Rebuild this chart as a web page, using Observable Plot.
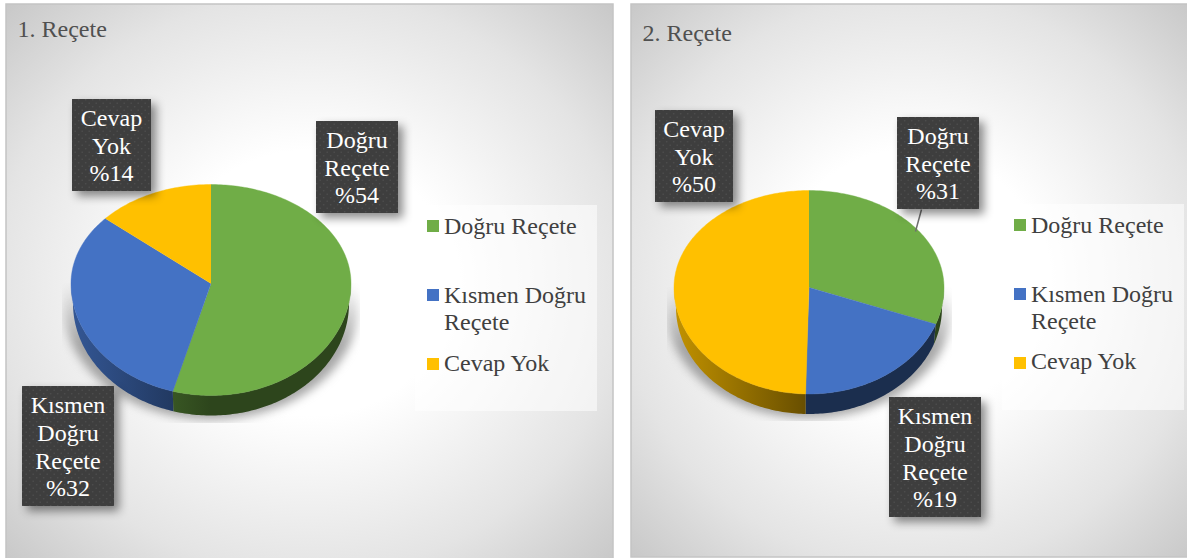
<!DOCTYPE html>
<html lang="tr">
<head>
<meta charset="utf-8">
<script src="https://cdn.jsdelivr.net/npm/d3@7"></script>
<script src="https://cdn.jsdelivr.net/npm/@observablehq/plot@0.6"></script>
<style>
html,body{margin:0;padding:0;background:#fff}
svg{display:block}
</style>
</head>
<body>
<div id="chart"></div>
<script>
// --- data ---
const categories = ["Doğru Reçete", "Kısmen Doğru Reçete", "Cevap Yok"];
const colors = ["#70ad47", "#4472c4", "#ffc000"];
const values1 = [54.4, 32.0, 13.6];
const values2 = [30.6, 19.8, 49.6];
const percents1 = ["%54", "%32", "%14"];
const percents2 = ["%31", "%19", "%50"];
const boxTexts = ["Doğru\nReçete", "Kısmen\nDoğru\nReçete", "Cevap\nYok"];
const titles = ["1. Reçete", "2. Reçete"];

// --- layout ---
const W = 1187, H = 558;
const FONT = "Liberation Serif";
const FS = 24;
const panels = [
  {x1: 6, x2: 613, y1: 4, y2: 562, tx: 17, ty: 36,
   pie: {cx: 210.5, cy: 283, rx: 140, ryT: 99, ryB: 112, depth: 20},
   legend: {x1: 415, x2: 597, y1: 205, y2: 411, sx: 427, tx: 443.5, sy: [220, 289, 358], cevapDy: -1},
   boxes: [{x1: 316, x2: 398, y1: 121, y2: 213}, {x1: 22, x2: 114, y1: 386, y2: 506}, {x1: 72, x2: 151, y1: 99, y2: 191}],
   values: values1, percents: percents1, shadowClip: {x: 62, y: 283, width: 298, height: 140}},
  {x1: 631, x2: 1192, y1: 4, y2: 557, tx: 642, ty: 40,
   pie: {cx: 808.5, cy: 287, rx: 135, ryT: 97, ryB: 106.5, depth: 20},
   legend: {x1: 1002, x2: 1184, y1: 204, y2: 410, sx: 1014, tx: 1030.5, sy: [219, 288, 357], cevapDy: -2},
   boxes: [{x1: 897, x2: 979, y1: 117, y2: 209}, {x1: 889, x2: 981, y1: 397, y2: 517}, {x1: 655, x2: 733, y1: 110, y2: 202}],
   values: values2, percents: percents2, shadowClip: {x: 667, y: 287, width: 285, height: 134}}
];

const rad = d => d * Math.PI / 180;
const topPoint = (p, a) => {
  const c = Math.cos(rad(a));
  return [p.cx + p.rx * Math.sin(rad(a)), p.cy - (c > 0 ? p.ryT : p.ryB) * c];
};
const botPoint = (p, a) => {
  const c = Math.cos(rad(a));
  return [p.cx + (p.rx - 2) * Math.sin(rad(a)), p.cy + p.depth - (c > 0 ? p.ryT : p.ryB) * c];
};
const range = (a0, a1) => {
  const out = [];
  for (let a = a0; a < a1; a += 1) out.push(a);
  out.push(a1);
  return out;
};

// build geometry from the values
const sliceRows = [], sideGroups = [], shadows = [], labelRows = [], boxRows = [], legendRows = [], swatchRows = [];
panels.forEach((panel, pi) => {
  const p = panel.pie;
  let acc = 0;
  panel.values.forEach((v, i) => {
    const a0 = acc * 3.6, a1 = (acc + v) * 3.6;
    acc += v;
    const id = `${pi}-${i}`;
    sliceRows.push({id, cat: categories[i], pt: [p.cx, p.cy]});
    range(a0, a1).forEach(a => sliceRows.push({id, cat: categories[i], pt: topPoint(p, a)}));
    const s0 = Math.max(a0, 90), s1 = Math.min(a1, 270);
    if (s1 > s0) {
      const pts = [...range(s0, s1).map(a => topPoint(p, a)), ...range(s0, s1).reverse().map(a => botPoint(p, a))];
      sideGroups.push({pts, order: i, fill: `url(#side-${pi}-${i})`});
    }
    const b = panel.boxes[i];
    boxRows.push(b);
    labelRows.push({x: (b.x1 + b.x2) / 2 - 0.5, y: (b.y1 + b.y2) / 2 - 0.5, text: boxTexts[i] + "\n" + panel.percents[i]});
    const l = panel.legend;
    swatchRows.push({x1: l.sx, x2: l.sx + 12, y1: l.sy[i], y2: l.sy[i] + 12, cat: categories[i]});
    const lines = i === 1 ? ["Kısmen Doğru", "Reçete"] : [categories[i]];
    const dy = i === 2 ? l.cevapDy : 0;
    lines.forEach((t, k) => legendRows.push({x: l.tx, y: l.sy[i] + 13.5 + dy + k * 26.5, text: t}));
  });
  shadows.push({pi, pts: range(70, 290).map(a => botPoint({...p, rx: p.rx + 9, depth: p.depth + 4}, a))});
});

const shade = (c, k) => {
  const r = d3.rgb(c);
  return d3.rgb(r.r * k, r.g * k, r.b * k).formatHex();
};
const gradients = panels.map((panel, pi) => colors.map((c, i) => `
  <linearGradient id="side-${pi}-${i}" gradientUnits="userSpaceOnUse" x1="${panel.pie.cx - panel.pie.rx}" x2="${panel.pie.cx}" y1="0" y2="0">
    <stop offset="0" stop-color="${shade(c, 0.76)}"/>
    <stop offset="1" stop-color="${shade(c, 0.40)}"/>
  </linearGradient>`).join("")).join("");
const fades = panels.map((panel, pi) => `
  <linearGradient id="shadow-fade-${pi}" gradientUnits="userSpaceOnUse" x1="0" x2="0" y1="${panel.pie.cy}" y2="${panel.pie.cy + 60}">
    <stop offset="0" stop-color="#8a8a8a" stop-opacity="0"/>
    <stop offset="1" stop-color="#8a8a8a" stop-opacity="0.75"/>
  </linearGradient>`).join("");
const clips = panels.map((panel, pi) => {
  const c = panel.shadowClip;
  return `<clipPath id="shadow-clip-${pi}"><rect x="${c.x}" y="${c.y}" width="${c.width}" height="${c.height}"/></clipPath>`;
}).join("");

const defs = () => {
  const d = d3.create("svg:defs");
  d.html(`
  <radialGradient id="panelBg" cx="0.5" cy="0.5" r="0.72">
    <stop offset="0" stop-color="#ffffff"/>
    <stop offset="0.33" stop-color="#ffffff"/>
    <stop offset="0.72" stop-color="#e4e4e4"/>
    <stop offset="1" stop-color="#c6c6c6"/>
  </radialGradient>
  <pattern id="dots" width="7" height="7" patternUnits="userSpaceOnUse">
    <rect width="7" height="7" fill="#3e3e3e"/>
    <circle cx="1.7" cy="1.7" r="0.8" fill="#4e4e4e"/>
    <circle cx="5.2" cy="5.2" r="0.8" fill="#4e4e4e"/>
  </pattern>
  ${gradients}${fades}${clips}`);
  return d.node();
};

// wraps a blurred shadow group in a clipping group, so the blur is cut off as in the reference
const clipped = id => (index, scales, values, dims, context, next) => {
  const g = next(index, scales, values, dims, context);
  const wrap = document.createElementNS("http://www.w3.org/2000/svg", "g");
  wrap.setAttribute("clip-path", `url(#${id})`);
  wrap.append(g);
  return wrap;
};

const marks = [
  defs,
  Plot.rect(panels, {x1: "x1", x2: "x2", y1: "y1", y2: "y2", fill: "url(#panelBg)", stroke: "#c4c4c4", strokeWidth: 1.5}),
  Plot.text(panels, {x: "tx", y: "ty", text: (d, i) => titles[i], textAnchor: "start", lineAnchor: "bottom", fontFamily: FONT, fontSize: FS, fill: "#505050"}),
  ...shadows.map(s => Plot.line(s.pts, {x: d => d[0], y: d => d[1], fill: `url(#shadow-fade-${s.pi})`, stroke: "none", imageFilter: "blur(5px)", render: clipped(`shadow-clip-${s.pi}`)})),
  ...sideGroups.map(g => Plot.line(g.pts, {x: d => d[0], y: d => d[1], fill: g.fill, stroke: "none"})),
  Plot.line(sliceRows, {x: d => d.pt[0], y: d => d.pt[1], z: "id", fill: "cat", stroke: "cat", strokeWidth: 0.4}),
  Plot.link([{x1: 921, y1: 209, x2: 915, y2: 231}], {x1: "x1", y1: "y1", x2: "x2", y2: "y2", stroke: "#707070", strokeWidth: 1.5}),
  Plot.rect(boxRows, {x1: "x1", x2: "x2", y1: "y1", y2: "y2", fill: "url(#dots)", imageFilter: "drop-shadow(5px 5px 5px rgba(0,0,0,0.45))"}),
  Plot.text(labelRows, {x: "x", y: "y", text: "text", textAnchor: "middle", lineHeight: 1.15, fontFamily: FONT, fontSize: FS, fill: "#ffffff"}),
  Plot.rect(panels.map(d => d.legend), {x1: "x1", x2: "x2", y1: "y1", y2: "y2", fill: "#ffffff", fillOpacity: 0.55}),
  Plot.rect(swatchRows, {x1: "x1", x2: "x2", y1: "y1", y2: "y2", fill: "cat"}),
  Plot.text(legendRows, {x: "x", y: "y", text: "text", textAnchor: "start", lineAnchor: "bottom", fontFamily: FONT, fontSize: FS, fill: "#404040"})
];

const chart = Plot.plot({
  width: W, height: H,
  margin: 0,
  x: {axis: null, domain: [0, W], range: [0, W]},
  y: {axis: null, domain: [0, H], range: [0, H]},
  color: {domain: categories, range: colors},
  style: {background: "#ffffff", overflow: "hidden"},
  marks
});
document.getElementById("chart").append(chart);
</script>
</body>
</html>
